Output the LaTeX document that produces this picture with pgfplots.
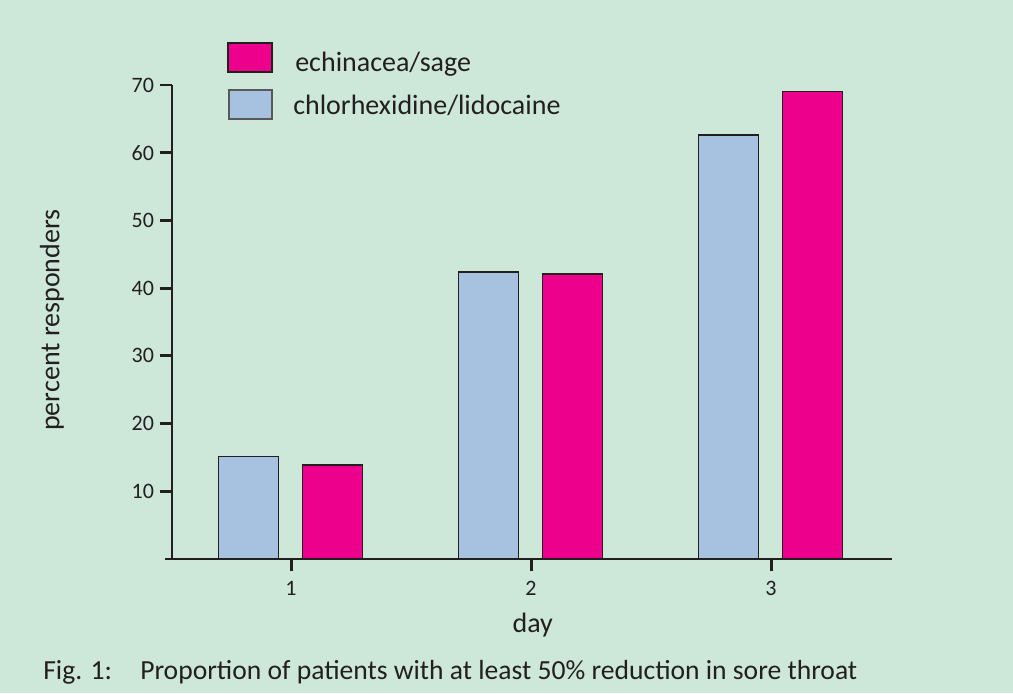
\documentclass[border=0pt]{standalone}
\usepackage{pgfplots}
\pgfplotsset{compat=1.18}
\usepackage{fontspec}
\setmainfont{Carlito}
\definecolor{bg}{RGB}{205,231,216}
\definecolor{pinkbar}{RGB}{236,0,140}
\definecolor{bluebar}{RGB}{167,193,225}
\definecolor{ink}{RGB}{35,31,32}
\begin{document}
\begin{tikzpicture}
\fill[bg] (0pt,0pt) rectangle (759.75pt,519.75pt);
\begin{axis}[
  at={(129pt,100.5pt)}, anchor=south west,
  scale only axis, width=540pt, height=355.5pt,
  xmin=0.504, xmax=3.504, ymin=0, ymax=70,
  axis x line=bottom, axis y line=left,
  axis line style={-, ink, line width=2.2pt},
  x axis line style={shorten <=-5.25pt},
  xtick={1,2,3}, ytick={10,20,30,40,50,60,70},
  tick align=outside, major tick length=9pt,
  major tick style={ink, line width=2.2pt},
  /pgf/number format/assume math mode=true,
  ticklabel style={font=\fontsize{16.5}{19}\selectfont, text=ink},
  xticklabel style={yshift=-4pt},
  yticklabel style={xshift=-1pt},
  xlabel={day}, ylabel={percent responders},
  label style={font=\fontsize{21}{25}\selectfont, text=ink},
  xlabel style={at={(axis description cs:0.501,-0.156)}, anchor=base},
  ylabel style={at={(axis description cs:-0.1667,0.504)}, anchor=center},
  clip=false,
]
\addplot[ybar, bar width=45pt, bar shift=-32pt, fill=bluebar, draw=ink, line width=1pt]
  coordinates {(1,15.1) (2,42.4) (3,62.6)};
\addplot[ybar, bar width=45pt, bar shift=31pt, fill=pinkbar, draw=ink, line width=1pt]
  coordinates {(1,13.9) (2,42.1) (3,69.0)};
\end{axis}
\begin{scope}[x=0.75pt,y=0.75pt]
% legend
\draw[fill=pinkbar, draw=ink, line width=1pt] (228,621) rectangle (272,650);
\draw[fill=bluebar, draw=ink!75, line width=1pt] (229,574) rectangle (272,603);
\node[anchor=base west, inner sep=0, text=ink, font=\fontsize{21}{25}\selectfont] at (295,621) {echinacea/sage};
\node[anchor=base west, inner sep=0, text=ink, font=\fontsize{21}{25}\selectfont] at (293,578) {chlorhexidine/lidocaine};
% caption
\node[anchor=base west, inner sep=0, text=ink, font=\fontsize{20.7}{25}\selectfont] at (43,14) {Fig. 1:};
\node[anchor=base west, inner sep=0, text=ink, font=\fontsize{20.7}{25}\selectfont] at (140,14) {Proportion of patients with at least 50\% reduction in sore throat};
\end{scope}
\end{tikzpicture}
\end{document}
